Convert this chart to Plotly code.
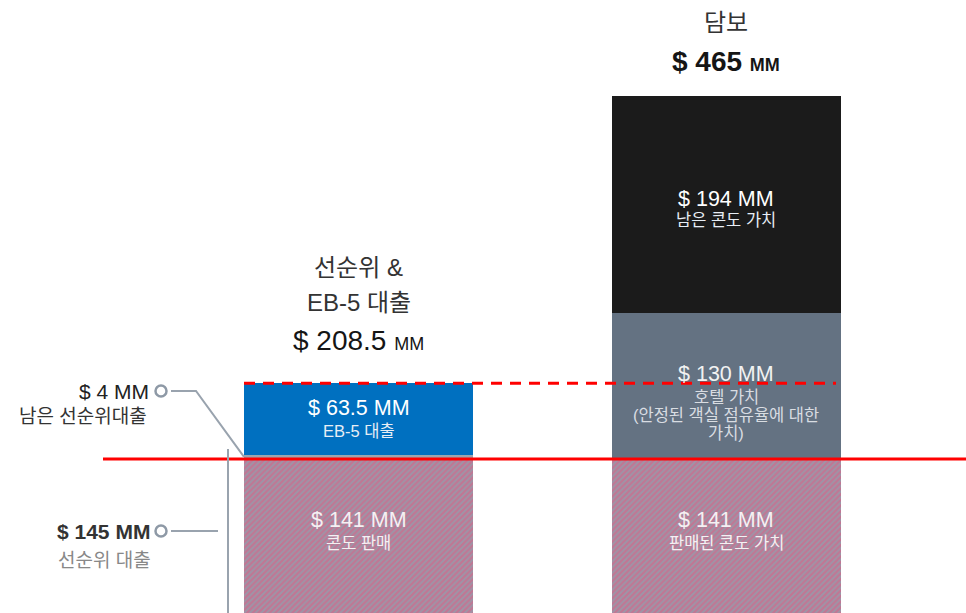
import plotly.graph_objects as go

# ---------------- data ----------------
bars = ["선순위 & EB-5 대출", "담보"]
base_vals = [141, 141]            # condo sales / sold condo value
mid_vals = [4, 130]               # remaining senior loan / hotel value
top_vals = [63.5, 194]            # EB-5 loan / remaining condo value
totals = [208.5, 465]
senior_loan = 145

base_labels = ["$ 141 MM", "$ 141 MM"]
base_subs = ["콘도 판매", "판매된 콘도 가치"]
top_labels = ["$ 63.5 MM", "$ 194 MM"]
top_subs = ["EB-5 대출", "남은 콘도 가치"]
mid_label_r = "$ 130 MM"
mid_sub_r = ["호텔 가치", "(안정된 객실 점유율에 대한", "가치)"]
side_4_label = "$ 4 MM"
side_4_sub = "남은 선순위대출"
side_145_label = "$ 145 MM"
side_145_sub = "선순위 대출"
title_left = ["선순위 &", "EB-5 대출"]
title_right = ["담보"]
total_text = ["$ 208.5", "$ 465"]

# ---------------- styling / layout helpers ----------------
FONT = "Liberation Sans, Noto Sans CJK KR, sans-serif"
W, H = 966, 613
Y0PX, SY = 617.1, 1.121          # pixel of value 0, pixels per unit
XC0, DX = 358.5, 367.5           # pixel of first bar centre, spacing


def X(px):                       # pixel -> x data
    return (px - XC0) / DX


def Y(py):                       # pixel -> y data
    return (Y0PX - py) / SY


x = [0, 1]
bw = 229 / DX

fig = go.Figure()
fig.add_trace(go.Bar(
    x=x, y=base_vals, width=bw,
    marker=dict(color="#9c96a8", line=dict(width=0),
                pattern=dict(shape="/", fgcolor="#e4587f", bgcolor="#9c96a8",
                             size=4, solidity=0.55)),
    hoverinfo="skip"))
fig.add_trace(go.Bar(
    x=x, y=mid_vals, width=bw,
    marker=dict(color=["#9ba5b0", "#647282"], line=dict(width=0)),
    hoverinfo="skip"))
fig.add_trace(go.Bar(
    x=x, y=top_vals, width=bw,
    marker=dict(color=["#0070c0", "#1b1b1b"], line=dict(width=0)),
    hoverinfo="skip"))

# side markers (open circles)
fig.add_trace(go.Scatter(
    x=[X(161), X(161)], y=[Y(391), Y(531)], mode="markers",
    marker=dict(symbol="circle-open", size=11, color="#8e99a6",
                line=dict(width=2.5, color="#8e99a6")),
    hoverinfo="skip", cliponaxis=False))

shapes = []
# red solid line drawn along the top of the condo-sales block
shapes.append(dict(type="line", xref="x", yref="y", x0=X(103), x1=X(W + 20),
                   y0=base_vals[0], y1=base_vals[0],
                   line=dict(color="#ff0000", width=3), layer="above"))
# red dashed line at the left total
shapes.append(dict(type="line", xref="x", yref="y", x0=-bw / 2, x1=X(836),
                   y0=totals[0], y1=totals[0],
                   line=dict(color="#ff0000", width=3, dash="11px,8px"),
                   layer="above"))
gcol = "#99a3ae"
shapes.append(dict(type="path", xref="x", yref="y",
                   path=f"M {X(171)} {Y(391)} L {X(196)} {Y(391)} "
                        f"L {-bw / 2} {base_vals[0] + mid_vals[0] / 2}",
                   line=dict(color=gcol, width=2), layer="above"))
shapes.append(dict(type="line", xref="x", yref="y", x0=X(171), x1=X(218),
                   y0=Y(531), y1=Y(531), line=dict(color=gcol, width=2)))
shapes.append(dict(type="line", xref="x", yref="y", x0=X(228), x1=X(228),
                   y0=Y(H + 20), y1=Y(449), line=dict(color=gcol, width=2)))

ann = []


def A(xv, yv, text, size, color, yshift=0, xanchor="center", weight="normal"):
    ann.append(dict(x=xv, y=yv, xref="x", yref="y", text=text, showarrow=False,
                    xanchor=xanchor, yanchor="middle", yshift=yshift,
                    font=dict(family=FONT, size=size, color=color, weight=weight)))


VAL, SUB = 21.5, 16.5
for i in range(2):
    mid = base_vals[i] / 2
    A(x[i], mid, base_labels[i], VAL, "#f6f0f3", yshift=18)
    A(x[i], mid, base_subs[i], SUB, "#f6f0f3", yshift=-5)
    mt = base_vals[i] + mid_vals[i] + top_vals[i] / 2
    A(x[i], mt, top_labels[i], VAL, "#ffffff", yshift=[11, 6][i])
    A(x[i], mt, top_subs[i], SUB, "#e8eef5", yshift=[-12, -15][i])

mm = base_vals[1] + mid_vals[1] / 2
A(x[1], mm, mid_label_r, VAL, "#f2f2f2", yshift=12)
for k, line in enumerate(mid_sub_r):
    A(x[1], mm, line, SUB, "#d9dde2", yshift=-11 - 18 * k)

# titles above bars
A(x[0], totals[0], total_text[0] + " <span style='font-size:18px'>MM</span>",
  28, "#151515", yshift=43)
A(x[0], totals[0], title_left[1], 24, "#333333", yshift=81)
A(x[0], totals[0], title_left[0], 24, "#333333", yshift=116)
A(x[1], totals[1], total_text[1] + " <span style='font-size:18px'>MM</span>",
  28, "#151515", yshift=34, weight="bold")
A(x[1], totals[1], title_right[0], 24, "#333333", yshift=73)

# side labels
A(X(151), Y(391), side_4_label, 21, "#222222", xanchor="right")
A(X(149), Y(416), side_4_sub, 19, "#333333", xanchor="right")
A(X(152), Y(531), side_145_label, 21, "#333333", xanchor="right", weight="bold")
A(X(153), Y(560), side_145_sub, 19, "#888888", xanchor="right")

fig.update_layout(
    width=W, height=H, barmode="stack", showlegend=False,
    margin=dict(l=0, r=0, t=0, b=0),
    paper_bgcolor="white", plot_bgcolor="white",
    xaxis=dict(range=[X(0), X(W)], visible=False, fixedrange=True),
    yaxis=dict(range=[Y(H), Y(0)], visible=False, fixedrange=True),
    shapes=shapes, annotations=ann, bargap=0,
)

fig.write_html("out.html",
               config={"displayModeBar": False, "staticPlot": True},
               post_script="document.body.style.margin='0';"
                           "document.body.style.overflow='hidden';")
